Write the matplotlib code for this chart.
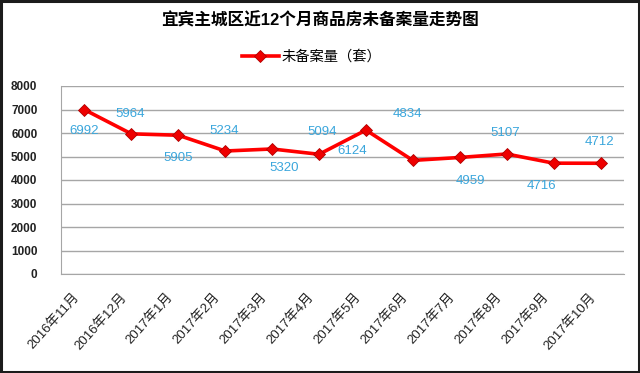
import matplotlib
matplotlib.use("Agg")
import matplotlib.pyplot as plt
from matplotlib.patches import Rectangle
from matplotlib.transforms import ScaledTranslation

plt.rcParams['font.family'] = ['Liberation Sans', 'Noto Sans CJK SC']

months = ["2016年11月", "2016年12月", "2017年1月", "2017年2月", "2017年3月", "2017年4月",
          "2017年5月", "2017年6月", "2017年7月", "2017年8月", "2017年9月", "2017年10月"]
unsold = [6992, 5964, 5905, 5234, 5320, 5094, 6124, 4834, 4959, 5107, 4716, 4712]
# label offsets in pixels, as placed in the original chart
label_dx = [0, -1, 0, -1, 12, 3, -14, -5, 11, -1, -12, -1]
label_dy = [-21, 20, -23, 20, -19, 22, -21, 46, -24, 21, -23, 21]

fig = plt.figure(figsize=(6.4, 3.73), dpi=100)
fig.patches.append(Rectangle((0.002, 0.003), 0.996, 0.994, transform=fig.transFigure,
                             fill=False, edgecolor='#1c1c1c', linewidth=2.2))

ax = fig.add_axes([61/640, 1-274/373, 563/640, 188/373])
x = list(range(len(months)))
ax.plot(x, unsold, color='#ff0000', linewidth=2.6, marker='D', markersize=6.5,
        markerfacecolor='#ee0000', markeredgecolor='#b00000', markeredgewidth=0.6,
        label='未备案量（套）', zorder=3)

for i, v in enumerate(unsold):
    ax.annotate(str(v), (i, v), xytext=(label_dx[i], label_dy[i]), textcoords='offset pixels',
                ha='center', va='center', fontsize=9.5, color='#3aa6dc')

ax.set_xlim(-0.5, len(months) - 0.5)
ax.set_ylim(0, 8000)
ax.set_yticks(range(0, 8001, 1000))
ax.set_xticks(x)
ax.set_xticklabels(months, rotation=48, ha='right', rotation_mode='anchor', fontsize=9.5)
ax.tick_params(axis='x', length=0, pad=12)
ax.tick_params(axis='y', length=0, pad=17, labelsize=8.5)
for lab in ax.get_yticklabels():
    lab.set_fontweight('bold')
    lab.set_color('#222222')
shift = ScaledTranslation(-12/100, 0, fig.dpi_scale_trans)
for lab in ax.get_xticklabels():
    lab.set_color('#222222')
    lab.set_transform(lab.get_transform() + shift)
ax.grid(axis='y', color='#a6a6a6', linewidth=1.0)
ax.set_axisbelow(True)
for s in ['top', 'right']:
    ax.spines[s].set_visible(False)
ax.spines['left'].set_color('#a6a6a6')
ax.spines['bottom'].set_color('#a6a6a6')

fig.text(0.5, 1-20/373, '宜宾主城区近12个月商品房未备案量走势图', ha='center', va='center',
         fontsize=12, fontweight='bold')
fig.legend(loc='center', bbox_to_anchor=(0.487, 1-57/373), frameon=False, fontsize=10.3,
           handlelength=2.6, handletextpad=0.2)

fig.savefig('out.png', dpi=100)
